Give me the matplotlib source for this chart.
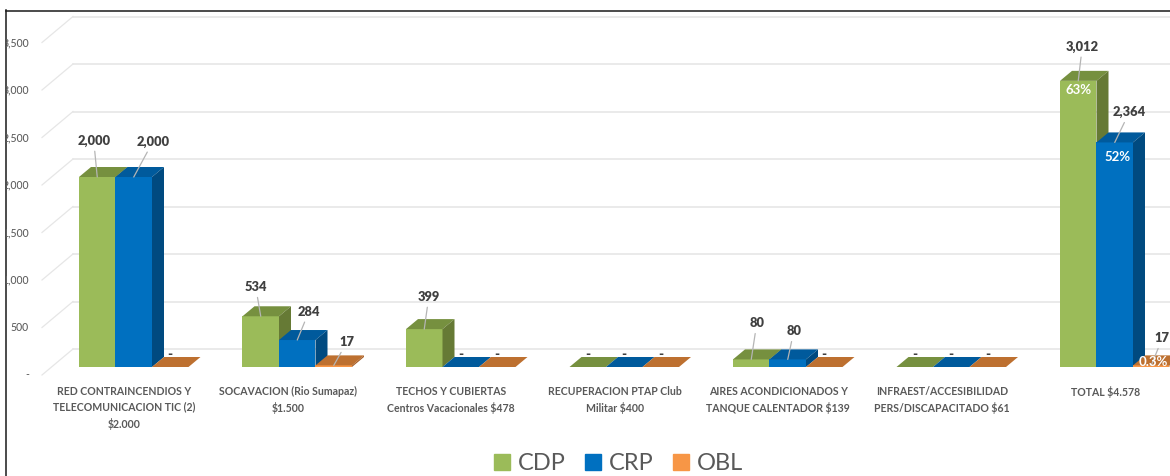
import matplotlib
matplotlib.use('Agg')
import matplotlib.pyplot as plt
from matplotlib.patches import Patch

plt.rcParams['font.family'] = ['Lato', 'DejaVu Sans']

categories = ['RED CONTRAINCENDIOS Y\nTELECOMUNICACION TIC (2)\n$2.000',
              'SOCAVACION (Rio Sumapaz)\n$1.500',
              'TECHOS Y CUBIERTAS\nCentros Vacacionales $478',
              'RECUPERACION PTAP Club\nMilitar $400',
              'AIRES ACONDICIONADOS Y\nTANQUE CALENTADOR $139',
              'INFRAEST/ACCESIBILIDAD\nPERS/DISCAPACITADO $61',
              'TOTAL $4.578']
cdp = [2000, 534, 399, 0, 80, 0, 3012]
crp = [2000, 284, 0, 0, 80, 0, 2364]
obl = [0, 17, 0, 0, 0, 0, 17]
yticks = [0, 500, 1000, 1500, 2000, 2500, 3000, 3500]
ytick_labels = ['-', '500', '1,000', '1,500', '2,000', '2,500', '3,000', '3,500']

# percent labels: text and offset from the bar top, in pixels
pct_cdp = {6: ('63%', 0, -9)}
pct_crp = {6: ('52%', 3, -15)}
pct_obl = {6: ('0.3%', 2, 3.5)}

# value label offsets from the bar top, in pixels
off_cdp = {0: (-3.5, 36), 1: (-5, 29), 2: (4.5, 32), 4: (5.5, 36), 6: (4, 34)}
off_crp = {0: (19, 35), 1: (11.5, 28), 4: (6, 28), 6: (14.5, 30)}
off_obl = {1: (13, 23), 6: (11, 27)}

W, H = 1170, 476
X0, X_STEP = 133.75, 163.5    # pixel of first group, pixels per group
Y0, Y_SCALE = 367, 0.095      # pixel of value 0, pixels per unit
LEFT, TOP = 5.5, 10.5

px = 1 / X_STEP    # one pixel in x units
py = 1 / Y_SCALE   # one pixel in y units
bar_w = 36.5 * px
depth_x = 12 * px
depth_y = 10 * py

fig = plt.figure(figsize=(W / 100, H / 100), dpi=100)
ax = fig.add_axes([LEFT / W, 0, 1 - LEFT / W, 1 - TOP / H])
ax.set_xlim((LEFT - X0) * px, (W - X0) * px)
ax.set_ylim(-(H - Y0) * py, (Y0 - TOP) * py)
ax.set_xticks([])
ax.set_yticks([])
for s in ['right', 'bottom']:
    ax.spines[s].set_visible(False)
for s in ['left', 'top']:
    ax.spines[s].set_linewidth(1.1)
    ax.spines[s].set_color('#1a1a1a')

# wall grid and the slanted lines going to the tick labels
wall_x = (73 - X0) * px
front_x = (42 - X0) * px
for v, lab in zip(yticks, ytick_labels):
    wall_y = v + 18 * py
    front_y = v - 8 * py
    ax.plot([wall_x, ax.get_xlim()[1]], [wall_y, wall_y], color='#e4e4e4', lw=1.1, zorder=1)
    ax.plot([front_x, wall_x], [front_y, wall_y], color='#e6e6e6', lw=0.9, zorder=1)
    ax.text((29 - X0) * px, front_y, lab, ha='right', va='center', fontsize=7.6,
            color='#5f5f5f', fontweight='medium', clip_on=True)

series = [
    (cdp, -bar_w, '#9bbb59', '#76903f', '#667a35', pct_cdp, off_cdp),
    (crp, 0, '#0070c0', '#005a9c', '#004a80', pct_crp, off_crp),
    (obl, bar_w, '#f79646', '#bd7030', '#a85f28', pct_obl, off_obl),
]

for i in range(len(categories)):
    ax.text(i - 9.5 * px, -19 * py, categories[i], ha='center', va='top',
            fontsize=7.6, color='#595959', fontweight='bold', linespacing=1.5)
    for vals, shift, front, top, side, pct, off in series:
        v = vals[i]
        x = i + shift
        l, r = x - bar_w / 2, x + bar_w / 2
        ax.bar(x, v, bar_w, color=front, zorder=3 + i)
        ax.fill([l, r, r + depth_x, l + depth_x], [v, v, v + depth_y, v + depth_y], color=top, lw=0, zorder=3 + i)
        if v > 0:
            ax.fill([r, r + depth_x, r + depth_x, r], [0, depth_y, v + depth_y, v], color=side, lw=0, zorder=3 + i)
        if i in off:
            ax.annotate(f'{v:,}', xy=(x, v), xytext=off[i], textcoords='offset pixels',
                        ha='center', va='center', fontsize=9.3, fontweight='heavy', color='#404040',
                        arrowprops=dict(arrowstyle='-', color='#b5b5b5', lw=0.9, shrinkA=1, shrinkB=0),
                        zorder=30)
        elif v == 0:
            ax.text(x, 13 * py, '-', ha='center', va='center', fontsize=9.5,
                    fontweight='heavy', color='#404040', zorder=30)
        if i in pct:
            ax.annotate(pct[i][0], xy=(x, v), xytext=pct[i][1:], textcoords='offset pixels',
                        ha='center', va='center', fontsize=9.5, fontweight='bold', color='white',
                        zorder=31)

handles = [Patch(color='#9bbb59', label='CDP'), Patch(color='#0070c0', label='CRP'),
           Patch(color='#f79646', label='OBL')]
ax.legend(handles=handles, loc='lower center', bbox_to_anchor=(618.5 / W, 0.004),
          bbox_transform=fig.transFigure, ncol=3, frameon=False, fontsize=17, labelcolor='#595959',
          handlelength=0.68, handleheight=0.68, handletextpad=0.35, columnspacing=0.8,
          borderpad=0, borderaxespad=0)

fig.savefig('out.png', dpi=100)
